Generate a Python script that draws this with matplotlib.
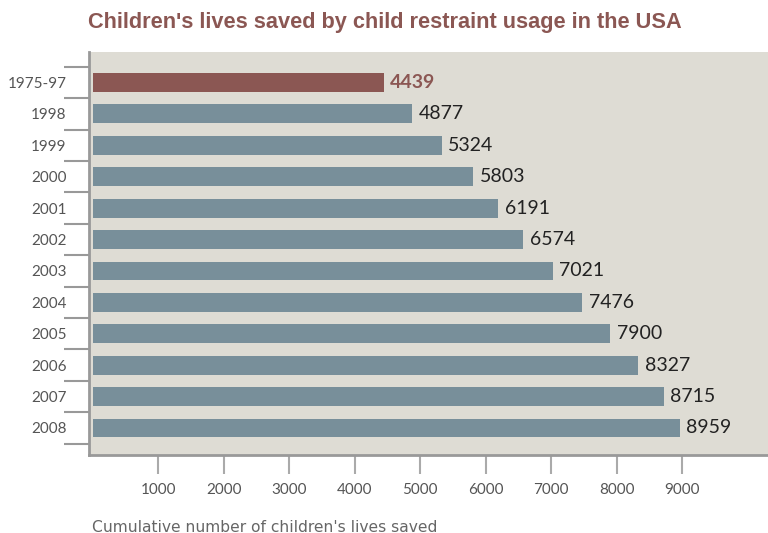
import numpy as np
from matplotlib import pyplot as plt

plt.rcParams['font.family'] = ['Lato', 'DejaVu Sans']

years = ["1975-97", "1998", "1999", "2000", "2001", "2002", "2003",
         "2004", "2005", "2006", "2007", "2008"]
saved = [4439, 4877, 5324, 5803, 6191, 6574, 7021, 7476, 7900, 8327, 8715, 8959]
xticks = [1000, 2000, 3000, 4000, 5000, 6000, 7000, 8000, 9000]

red = '#8b5753'
blue = '#788f9a'
colors = [red] + [blue] * (len(years) - 1)

fig = plt.figure(figsize=(7.68, 5.33), dpi=100)
ax = fig.add_axes([89 / 768, 1 - 455 / 533, 1 - 89 / 768, (455 - 52) / 533])
ax.set_facecolor('#dedcd4')

y = np.arange(len(years))
ax.barh(y, saved, height=0.6, color=colors)

for i, v in enumerate(saved):
    if i == 0:
        ax.text(v + 100, i, str(v), va='center', ha='left', fontsize=14,
                color=red, fontweight='bold')
    else:
        ax.text(v + 100, i, str(v), va='center', ha='left', fontsize=14,
                color='#222222')

ax.set_xlim(-60, 10310)
ax.set_ylim(len(years) - 1 + 0.86, -0.97)

# labels at bar centres, tick marks between bars
ax.set_yticks(y)
ax.set_yticklabels(years, fontsize=11, color='#555555')
ax.tick_params(axis='y', which='major', length=0, pad=16)
ax.set_yticks(np.arange(len(years) + 1) - 0.5, minor=True)
ax.tick_params(axis='y', which='minor', length=18, width=1.5, color='#999999')

ax.set_xticks(xticks)
ax.set_xticklabels([str(t) for t in xticks], fontsize=11, color='#555555')
ax.tick_params(axis='x', length=14, width=1.5, color='#aaaaaa', pad=6)

for s in ['top', 'right']:
    ax.spines[s].set_visible(False)
for s in ['left', 'bottom']:
    ax.spines[s].set_color('#999999')
    ax.spines[s].set_linewidth(2)

fig.text(88 / 768, 1 - 22 / 533, "Children's lives saved by child restraint usage in the USA",
         fontsize=15.7, fontweight='bold', color=red, va='center', ha='left',
         family='Liberation Sans')
fig.text(92 / 768, 1 - 527 / 533, "Cumulative number of children's lives saved",
         fontsize=11.2, color='#666666', va='center', ha='left', family='DejaVu Sans')

fig.savefig('out.png', dpi=100)
